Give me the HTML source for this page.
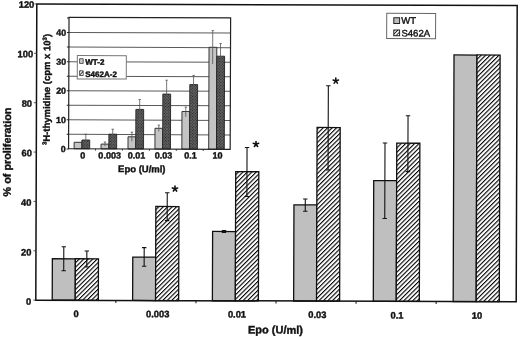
<!DOCTYPE html><html><head><meta charset="utf-8"><style>html,body{margin:0;padding:0;background:#fff;width:520px;height:337px;overflow:hidden}svg{display:block;filter:blur(0.35px)}text{font-family:"Liberation Sans", sans-serif;stroke:#111;stroke-width:0.4px;paint-order:stroke}</style></head><body>
<svg width="520" height="337" viewBox="0 0 520 337">
<defs>
<pattern id="hatch" patternUnits="userSpaceOnUse" width="3.15" height="3.15" patternTransform="rotate(45)"><rect x="0" y="0" width="3.15" height="3.15" fill="#fff"/><rect x="0" y="0" width="1.1" height="3.15" fill="#000"/></pattern>
<pattern id="hatchs" patternUnits="userSpaceOnUse" width="2.6" height="2.6" patternTransform="rotate(45)"><rect x="0" y="0" width="2.6" height="2.6" fill="#fff"/><rect x="0" y="0" width="0.9" height="2.6" fill="#222"/></pattern>
<pattern id="xh" patternUnits="userSpaceOnUse" width="2" height="2" patternTransform="rotate(45)"><rect width="2" height="2" fill="#606060"/><rect width="1" height="1" fill="#262626"/></pattern>
</defs>
<g transform="rotate(0.1948 276.0 153.0)">
<rect x="52.73" y="259.52" width="23.00" height="41.43" fill="#bfbfbf" stroke="#111" stroke-width="1.3"/>
<rect x="75.73" y="259.44" width="23.10" height="41.51" fill="url(#hatch)" stroke="#111" stroke-width="1.3"/>
<path d="M64.12 247.52V271.42M61.92 247.52H66.32M61.92 271.42H66.32" stroke="#111" stroke-width="1.1" fill="none"/>
<path d="M87.18 251.64V267.64M84.98 251.64H89.38M84.98 267.64H89.38" stroke="#111" stroke-width="1.1" fill="none"/>
<rect x="133.13" y="257.55" width="23.00" height="43.40" fill="#bfbfbf" stroke="#111" stroke-width="1.3"/>
<rect x="156.04" y="206.87" width="23.10" height="94.08" fill="url(#hatch)" stroke="#111" stroke-width="1.3"/>
<path d="M144.52 248.05V266.75M142.32 248.05H146.72M142.32 266.75H146.72" stroke="#111" stroke-width="1.1" fill="none"/>
<path d="M167.39 193.17V220.97M165.19 193.17H169.59M165.19 220.97H169.59" stroke="#111" stroke-width="1.1" fill="none"/>
<path d="M175.12 189.14L175.12 186.39M175.12 189.14L177.74 188.29M175.12 189.14L176.74 191.37M175.12 189.14L173.51 191.37M175.12 189.14L172.51 188.29" stroke="#111" stroke-width="1.6" stroke-linecap="round" fill="none"/>
<rect x="212.89" y="231.68" width="23.00" height="69.27" fill="#bfbfbf" stroke="#111" stroke-width="1.3"/>
<rect x="235.78" y="171.80" width="23.10" height="129.15" fill="url(#hatch)" stroke="#111" stroke-width="1.3"/>
<path d="M224.26 230.78V232.58M222.06 230.78H226.46M222.06 232.58H226.46" stroke="#111" stroke-width="1.1" fill="none"/>
<path d="M247.03 147.60V196.60M244.83 147.60H249.23M244.83 196.60H249.23" stroke="#111" stroke-width="1.1" fill="none"/>
<path d="M255.97 144.27L255.97 141.52M255.97 144.27L258.59 143.42M255.97 144.27L257.59 146.49M255.97 144.27L254.35 146.49M255.97 144.27L253.35 143.42" stroke="#111" stroke-width="1.6" stroke-linecap="round" fill="none"/>
<rect x="294.14" y="204.80" width="23.00" height="96.15" fill="#bfbfbf" stroke="#111" stroke-width="1.3"/>
<rect x="317.01" y="127.32" width="23.10" height="173.63" fill="url(#hatch)" stroke="#111" stroke-width="1.3"/>
<path d="M305.46 198.90V211.10M303.26 198.90H307.66M303.26 211.10H307.66" stroke="#111" stroke-width="1.1" fill="none"/>
<path d="M328.12 85.62V169.82M325.92 85.62H330.32M325.92 169.82H330.32" stroke="#111" stroke-width="1.1" fill="none"/>
<path d="M335.55 80.70L335.55 77.95M335.55 80.70L338.17 79.85M335.55 80.70L337.17 82.92M335.55 80.70L333.94 82.92M335.55 80.70L332.94 79.85" stroke="#111" stroke-width="1.6" stroke-linecap="round" fill="none"/>
<rect x="373.80" y="180.23" width="23.00" height="120.72" fill="#bfbfbf" stroke="#111" stroke-width="1.3"/>
<rect x="396.73" y="142.75" width="23.10" height="158.20" fill="url(#hatch)" stroke="#111" stroke-width="1.3"/>
<path d="M384.97 142.63V218.13M382.77 142.63H387.17M382.77 218.13H387.17" stroke="#111" stroke-width="1.1" fill="none"/>
<path d="M407.92 115.25V171.15M405.72 115.25H410.12M405.72 171.15H410.12" stroke="#111" stroke-width="1.1" fill="none"/>
<rect x="453.68" y="54.36" width="23.00" height="246.59" fill="#bfbfbf" stroke="#111" stroke-width="1.3"/>
<rect x="476.68" y="54.28" width="23.10" height="246.67" fill="url(#hatch)" stroke="#111" stroke-width="1.3"/>
<path d="M36.30 4.80H516.70V300.95H36.30Z" stroke="#111" stroke-width="1.5" fill="none"/>
<path d="M33.70 300.95H36.30" stroke="#333" stroke-width="0.8"/>
<text x="31.58" y="305.53" font-size="9.3" font-weight="bold" text-anchor="end" fill="#111">0</text>
<path d="M33.70 251.59H36.30" stroke="#333" stroke-width="0.8"/>
<text x="31.71" y="256.33" font-size="9.3" font-weight="bold" text-anchor="end" fill="#111">20</text>
<path d="M33.70 202.23H36.30" stroke="#333" stroke-width="0.8"/>
<text x="31.54" y="206.73" font-size="9.3" font-weight="bold" text-anchor="end" fill="#111">40</text>
<path d="M33.70 152.88H36.30" stroke="#333" stroke-width="0.8"/>
<text x="31.87" y="157.03" font-size="9.3" font-weight="bold" text-anchor="end" fill="#111">60</text>
<path d="M33.70 103.52H36.30" stroke="#333" stroke-width="0.8"/>
<text x="31.90" y="107.53" font-size="9.3" font-weight="bold" text-anchor="end" fill="#111">80</text>
<path d="M33.70 54.16H36.30" stroke="#333" stroke-width="0.8"/>
<text x="32.74" y="58.18" font-size="9.3" font-weight="bold" text-anchor="end" fill="#111">100</text>
<path d="M33.70 4.80H36.30" stroke="#333" stroke-width="0.8"/>
<text x="33.77" y="8.52" font-size="9.3" font-weight="bold" text-anchor="end" fill="#111">120</text>
<path d="M116.37 300.95V303.45" stroke="#111" stroke-width="1"/>
<path d="M196.43 300.95V303.45" stroke="#111" stroke-width="1"/>
<path d="M276.50 300.95V303.45" stroke="#111" stroke-width="1"/>
<path d="M356.57 300.95V303.45" stroke="#111" stroke-width="1"/>
<path d="M436.63 300.95V303.45" stroke="#111" stroke-width="1"/>
<text x="76.66" y="317.68" font-size="9.3" font-weight="bold" text-anchor="middle" fill="#111">0</text>
<text x="158.26" y="317.70" font-size="9.3" font-weight="bold" text-anchor="middle" fill="#111">0.003</text>
<text x="237.56" y="317.68" font-size="9.3" font-weight="bold" text-anchor="middle" fill="#111">0.01</text>
<text x="317.86" y="317.76" font-size="9.3" font-weight="bold" text-anchor="middle" fill="#111">0.03</text>
<text x="397.56" y="318.09" font-size="9.3" font-weight="bold" text-anchor="middle" fill="#111">0.1</text>
<text x="477.46" y="318.12" font-size="9.3" font-weight="bold" text-anchor="middle" fill="#111">10</text>
<text x="276.11" y="333.60" font-size="11" font-weight="bold" text-anchor="middle" fill="#111">Epo (U/ml)</text>
<text transform="translate(10.80,152.90) rotate(-90)" font-size="10.8" font-weight="bold" text-anchor="middle" fill="#111">% of proliferation</text>
<rect x="386.27" y="12.84" width="48.90" height="25.30" fill="#fff" stroke="#666" stroke-width="1"/>
<rect x="393.35" y="17.29" width="5.80" height="5.80" fill="#bcbcbc" stroke="#222" stroke-width="1"/>
<rect x="393.39" y="29.59" width="5.80" height="5.80" fill="url(#hatchs)" stroke="#222" stroke-width="1"/>
<text x="400.86" y="23.37" font-size="9.5" fill="#111">WT</text>
<text x="401.10" y="36.07" font-size="9.5" fill="#111">S462A</text>
<rect x="68.56" y="18.03" width="161.60" height="131.40" fill="#fff"/>
<path d="M68.56 135.08H230.16" stroke="#5a5a5a" stroke-width="1"/>
<path d="M68.56 120.54H230.16" stroke="#5a5a5a" stroke-width="1"/>
<path d="M68.56 105.99H230.16" stroke="#5a5a5a" stroke-width="1"/>
<path d="M68.56 91.45H230.16" stroke="#5a5a5a" stroke-width="1"/>
<path d="M68.56 76.90H230.16" stroke="#5a5a5a" stroke-width="1"/>
<path d="M68.56 62.36H230.16" stroke="#5a5a5a" stroke-width="1"/>
<path d="M68.56 47.81H230.16" stroke="#5a5a5a" stroke-width="1"/>
<path d="M68.56 33.27H230.16" stroke="#5a5a5a" stroke-width="1"/>
<rect x="74.08" y="142.97" width="7.80" height="6.46" fill="#c4c4c4" stroke="#222" stroke-width="0.9"/>
<rect x="81.87" y="140.65" width="7.80" height="8.78" fill="url(#xh)" stroke="#222" stroke-width="0.9"/>
<path d="M85.74 134.85V146.45M84.54 134.85H86.94" stroke="#555" stroke-width="0.8" fill="none"/>
<rect x="101.03" y="144.68" width="7.80" height="4.75" fill="#c4c4c4" stroke="#222" stroke-width="0.9"/>
<rect x="108.81" y="134.76" width="7.80" height="14.67" fill="url(#xh)" stroke="#222" stroke-width="0.9"/>
<path d="M104.91 142.58V146.78M103.71 142.58H106.11" stroke="#555" stroke-width="0.8" fill="none"/>
<path d="M112.67 129.76V139.76M111.47 129.76H113.87" stroke="#555" stroke-width="0.8" fill="none"/>
<rect x="127.97" y="137.29" width="7.80" height="12.14" fill="#c4c4c4" stroke="#222" stroke-width="0.9"/>
<rect x="135.72" y="109.86" width="7.80" height="39.57" fill="url(#xh)" stroke="#222" stroke-width="0.9"/>
<path d="M131.83 132.69V141.79M130.63 132.69H133.03" stroke="#555" stroke-width="0.8" fill="none"/>
<path d="M139.52 99.96V119.96M138.32 99.96H140.72" stroke="#555" stroke-width="0.8" fill="none"/>
<rect x="154.90" y="128.70" width="7.80" height="20.73" fill="#c4c4c4" stroke="#222" stroke-width="0.9"/>
<rect x="162.64" y="94.47" width="7.80" height="54.96" fill="url(#xh)" stroke="#222" stroke-width="0.9"/>
<path d="M158.76 125.50V131.80M157.56 125.50H159.96" stroke="#555" stroke-width="0.8" fill="none"/>
<path d="M166.40 80.57V108.47M165.20 80.57H167.60" stroke="#555" stroke-width="0.8" fill="none"/>
<rect x="181.82" y="111.81" width="7.80" height="37.62" fill="#c4c4c4" stroke="#222" stroke-width="0.9"/>
<rect x="189.58" y="84.88" width="7.80" height="64.55" fill="url(#xh)" stroke="#222" stroke-width="0.9"/>
<path d="M185.64 107.41V117.11M184.44 107.41H186.84" stroke="#555" stroke-width="0.8" fill="none"/>
<path d="M193.34 75.68V94.08M192.14 75.68H194.54" stroke="#555" stroke-width="0.8" fill="none"/>
<rect x="208.66" y="47.52" width="7.80" height="101.91" fill="#c4c4c4" stroke="#222" stroke-width="0.9"/>
<rect x="216.48" y="56.39" width="7.80" height="93.04" fill="url(#xh)" stroke="#222" stroke-width="0.9"/>
<path d="M212.33 30.82V64.22M211.13 30.82H213.53" stroke="#555" stroke-width="0.8" fill="none"/>
<path d="M220.18 43.69V69.09M218.98 43.69H221.38" stroke="#555" stroke-width="0.8" fill="none"/>
<path d="M68.56 18.03H230.16V149.43H68.56Z" stroke="#222" stroke-width="1.2" fill="none"/>
<path d="M66.56 149.63H68.56" stroke="#222" stroke-width="1"/>
<text x="65.76" y="152.73" font-size="8.8" font-weight="bold" text-anchor="end" fill="#111">0</text>
<path d="M66.56 135.08H68.56" stroke="#222" stroke-width="1"/>
<path d="M66.56 120.54H68.56" stroke="#222" stroke-width="1"/>
<text x="65.76" y="123.64" font-size="8.8" font-weight="bold" text-anchor="end" fill="#111">10</text>
<path d="M66.56 105.99H68.56" stroke="#222" stroke-width="1"/>
<path d="M66.56 91.45H68.56" stroke="#222" stroke-width="1"/>
<text x="65.76" y="94.55" font-size="8.8" font-weight="bold" text-anchor="end" fill="#111">20</text>
<path d="M66.56 76.90H68.56" stroke="#222" stroke-width="1"/>
<path d="M66.56 62.36H68.56" stroke="#222" stroke-width="1"/>
<text x="65.76" y="65.46" font-size="8.8" font-weight="bold" text-anchor="end" fill="#111">30</text>
<path d="M66.56 47.81H68.56" stroke="#222" stroke-width="1"/>
<path d="M66.56 33.27H68.56" stroke="#222" stroke-width="1"/>
<text x="65.76" y="36.37" font-size="8.8" font-weight="bold" text-anchor="end" fill="#111">40</text>
<path d="M66.56 18.72H68.56" stroke="#222" stroke-width="1"/>
<path d="M95.50 149.43V151.23" stroke="#222" stroke-width="0.8"/>
<path d="M122.43 149.43V151.23" stroke="#222" stroke-width="0.8"/>
<path d="M149.36 149.43V151.23" stroke="#222" stroke-width="0.8"/>
<path d="M176.30 149.43V151.23" stroke="#222" stroke-width="0.8"/>
<path d="M203.23 149.43V151.23" stroke="#222" stroke-width="0.8"/>
<text x="82.72" y="159.26" font-size="9" font-weight="bold" text-anchor="middle" fill="#111">0</text>
<text x="109.67" y="159.17" font-size="9" font-weight="bold" text-anchor="middle" fill="#111">0.003</text>
<text x="136.62" y="159.07" font-size="9" font-weight="bold" text-anchor="middle" fill="#111">0.01</text>
<text x="163.57" y="158.98" font-size="9" font-weight="bold" text-anchor="middle" fill="#111">0.03</text>
<text x="190.52" y="158.89" font-size="9" font-weight="bold" text-anchor="middle" fill="#111">0.1</text>
<text x="217.47" y="158.80" font-size="9" font-weight="bold" text-anchor="middle" fill="#111">10</text>
<text x="141.87" y="172.66" font-size="9.5" font-weight="bold" text-anchor="middle" fill="#111">Epo (U/ml)</text>
<text transform="translate(49.79,90.27) rotate(-90)" font-size="9.5" font-weight="bold" text-anchor="middle" fill="#111"><tspan font-size="6" dy="-3.3">3</tspan><tspan dy="3.3">H-thymidine (cpm x 10</tspan><tspan font-size="6" dy="-3.3">3</tspan><tspan dy="3.3">)</tspan></text>
<rect x="77.01" y="56.19" width="49.00" height="23.40" fill="#fff" stroke="#777" stroke-width="1"/>
<rect x="79.29" y="59.36" width="3.60" height="4.70" fill="#d0d0d0" stroke="#333" stroke-width="0.8"/>
<rect x="79.33" y="71.46" width="3.60" height="4.70" fill="url(#hatchs)" stroke="#333" stroke-width="0.8"/>
<text x="85.00" y="65.35" font-size="8" font-weight="bold" fill="#111">WT-2</text>
<text x="85.04" y="77.55" font-size="8" font-weight="bold" fill="#111">S462A-2</text>
</g>
</svg></body></html>
